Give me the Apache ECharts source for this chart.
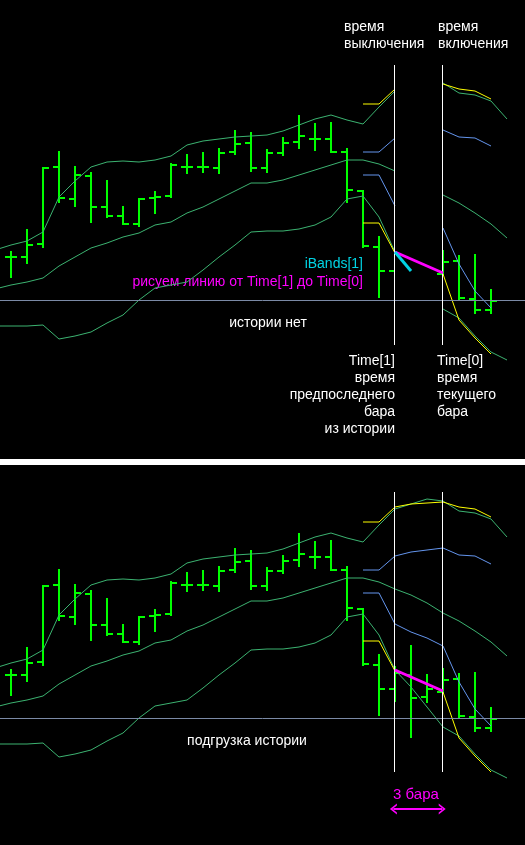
<!DOCTYPE html>
<html>
<head>
<meta charset="utf-8">
<script src="https://cdn.jsdelivr.net/npm/echarts/dist/echarts.min.js"></script>
<style>
html, body { margin: 0; padding: 0; background: #000; }
#main { width: 525px; height: 845px; }
</style>
</head>
<body>
<div id="main"></div>
<script>
// бары [open, high, low, close], индексы 0..30
const bars = [
  [143, 148, 123, 143], [143, 170, 137, 155], [156, 232, 153, 232], [233, 248, 198, 202],
  [201, 233, 194, 225], [224, 227, 178, 193], [193, 219, 183, 184], [184, 193, 176, 176],
  [176, 201, 174, 201], [202, 208, 187, 203], [204, 236, 203, 235], [233, 245, 227, 233],
  [233, 247, 228, 233], [232, 251, 227, 247], [248, 269, 246, 256], [257, 267, 229, 232],
  [232, 250, 228, 247], [247, 262, 245, 257], [258, 284, 252, 264], [261, 276, 250, 261],
  [261, 277, 248, 248], [248, 251, 198, 210], [209, 209, 153, 154], [153, 163, 103, 129],
  [129, 151, 117, 145], [143, 172, 81, 120], [121, 143, 116, 129], [126, 149, 125, 138],
  [139, 144, 101, 102], [101, 145, 87, 90], [90, 110, 87, 99]
];

// Bollinger (зелёные), индексы -1..31
const bandStart = -1;
const upperBand = [150, 155, 159, 168, 203, 219, 233, 238, 239, 238, 240, 244, 255, 259, 261, 263, 264,
  265, 269, 275, 281, 285, 280, 276, 293, 309, 314, 319, 317, 307, 305, 299, 281];
const middleBand = [111, 115, 118, 122, 134, 143, 152, 157, 163, 167, 175, 178, 187, 193, 201, 209, 217,
  217, 220, 225, 230, 235, 240, 240, 236, 229, 223, 215, 205, 197, 187, 176, 162];
const lowerBand = [74, 74, 74, 75, 61, 64, 68, 77, 85, 100, 112, 115, 118, 130, 143, 155, 168,
  169, 169, 171, 175, 183, 201, 204, 183, 148, 131, 111, 91, 82, 64, 48, 40];

// линии индикатора, индексы 22..30
const indStart = 22;
const yellowUp = [296, 296, 311, 314, 315, 316, 311, 309, 301];
const blueUp = [248, 248, 262, 266, 268, 270, 263, 262, 254];
const blueLow = [225, 225, 194, 186, 180, 172, 136, 109, 92];
const yellowLow = [177, 177, 147, 141, 134, 126, 80, 62, 46];

const time1 = 24, time0 = 27;
const noHistory = [25, 26];          // в верхнем окне этих баров нет
const levelPrice = 99.5;
const magentaLine = [[24, 148], [27, 127]];
const cyanLine = [[24, 148], [25, 129]];
const vlineTop = [335, 55], vlineBottom = [326, 46];
const arrowPrice = 9;

const GREEN = '#3cb371', BAR = '#00ff00', YEL = '#ffff00', BLUE = '#6495ed';
const MAG = '#ff00ff', CYAN = '#00d4e4', LEVEL = '#7b8aa6';
const FONT = '14px "Liberation Sans", Arial, sans-serif';

function lineSeries(start, values, color, width, gi, gaps) {
  return {
    type: 'line', xAxisIndex: gi, yAxisIndex: gi, symbol: 'none', silent: true,
    data: values.map((v, i) => {
      const x = start + i;
      return [x, (gaps.includes(x) || v == null) ? '-' : v];
    }),
    lineStyle: { color: color, width: width }
  };
}

function barSeries(gi, skip, openOnly) {
  return {
    type: 'custom', xAxisIndex: gi, yAxisIndex: gi, silent: true,
    data: bars.map((b, i) => [i].concat(b)).filter(d => !skip.includes(d[0])),
    renderItem: function (params, api) {
      const x = api.value(0);
      const o = api.coord([x, api.value(1)]);
      const h = api.coord([x, api.value(2)]);
      const l = api.coord([x, api.value(3)]);
      const c = api.coord([x, api.value(4)]);
      const st = { stroke: BAR, lineWidth: 2 };
      const kids = [{ type: 'line', shape: { x1: o[0] - 6, y1: o[1], x2: o[0], y2: o[1] }, style: st }];
      if (x !== openOnly) {
        kids.push({ type: 'line', shape: { x1: h[0], y1: h[1] - 1, x2: l[0], y2: l[1] + 1 }, style: st });
        kids.push({ type: 'line', shape: { x1: c[0], y1: c[1], x2: c[0] + 6, y2: c[1] }, style: st });
      }
      return { type: 'group', children: kids };
    }
  };
}

function plainLine(points, color, width, gi) {
  return {
    type: 'line', xAxisIndex: gi, yAxisIndex: gi, symbol: 'none', silent: true,
    data: points, lineStyle: { color: color, width: width }
  };
}

function panel(gi, top) {
  const gaps = top ? noHistory : [];
  const v = top ? vlineTop : vlineBottom;
  const s = [
    lineSeries(bandStart, upperBand, GREEN, 1, gi, gaps),
    lineSeries(bandStart, middleBand, GREEN, 1, gi, gaps),
    lineSeries(bandStart, lowerBand, GREEN, 1, gi, gaps),
    lineSeries(indStart, yellowUp, YEL, 1, gi, gaps),
    lineSeries(indStart, blueUp, BLUE, 1, gi, gaps),
    lineSeries(indStart, blueLow, BLUE, 1, gi, gaps),
    lineSeries(indStart, yellowLow, YEL, 1, gi, gaps),
    plainLine([[-2, levelPrice], [34, levelPrice]], LEVEL, 1, gi),
    barSeries(gi, gaps, top ? time1 : null),
    plainLine([[time1 - 1 / 32, v[0]], [time1 - 1 / 32, v[1]]], '#ffffff', 1, gi),
    plainLine([[time0 - 1 / 32, v[0]], [time0 - 1 / 32, v[1]]], '#ffffff', 1, gi),
    plainLine(magentaLine, MAG, 3, gi)
  ];
  if (top) {
    s.push(plainLine(cyanLine, CYAN, 3, gi));
  } else {
    const arr = plainLine([], MAG, 2, gi);
    arr.markLine = {
      silent: true, animation: false,
      symbol: ['path://M0,7 L5.5,0 L11,7 L9,7 L5.5,2.6 L2,7 Z', 'path://M0,7 L5.5,0 L11,7 L9,7 L5.5,2.6 L2,7 Z'],
      symbolSize: [11, 7],
      label: { show: false },
      lineStyle: { color: MAG, width: 2, type: 'solid' },
      data: [[{ coord: [time1 - 0.1, arrowPrice] }, { coord: [time0 - 0.05, arrowPrice] }]]
    };
    s.push(arr);
  }
  return s;
}

function txt(text, x, y, align, color, font) {
  return {
    type: 'text', silent: true,
    style: {
      text: text, x: x, y: y, fill: color || '#ffffff', font: font || FONT,
      align: align, textAlign: align, verticalAlign: 'top', textVerticalAlign: 'top', lineHeight: 17
    }
  };
}

const chart = echarts.init(document.getElementById('main'));
const axisX = gi => ({ type: 'value', gridIndex: gi, min: -0.6875, max: 32.125, show: false });
const axisY = gi => ({ type: 'value', gridIndex: gi, min: 0, max: 400, show: false });

chart.setOption({
  backgroundColor: '#000',
  animation: false,
  grid: [
    { left: 0, right: 0, top: 0, height: 400 },
    { left: 0, right: 0, top: 418, height: 400 }
  ],
  xAxis: [axisX(0), axisX(1)],
  yAxis: [axisY(0), axisY(1)],
  series: panel(0, true).concat(panel(1, false)),
  graphic: [
    { type: 'rect', silent: true, shape: { x: 0, y: 459, width: 525, height: 6 }, style: { fill: '#ffffff' } },
    txt('время\nвыключения', 344, 18.5, 'left'),
    txt('время\nвключения', 438, 18.5, 'left'),
    txt('iBands[1]', 363, 255.5, 'right', CYAN),
    txt('рисуем линию от Time[1] до Time[0]', 363, 273.5, 'right', MAG),
    txt('истории нет', 268, 314.5, 'center'),
    txt('Time[1]\nвремя\nпредпоследнего\nбара\nиз истории', 395, 352.5, 'right'),
    txt('Time[0]\nвремя\nтекущего\nбара', 437, 352.5, 'left'),
    txt('подгрузка истории', 247, 732.5, 'center'),
    txt('3 бара', 416, 786.5, 'center', MAG, '15px "Liberation Sans", Arial, sans-serif')
  ]
});
</script>
</body>
</html>
